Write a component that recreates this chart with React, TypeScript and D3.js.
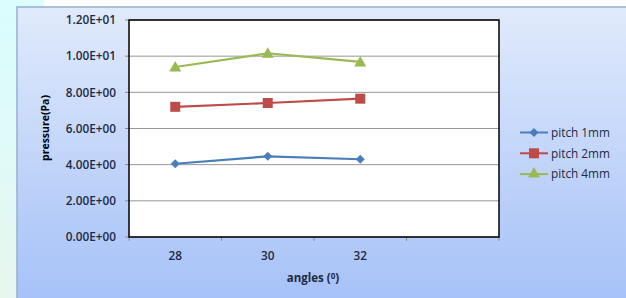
import React from "react";
import * as d3 from "d3";

const categories = ["28", "30", "32", ""];
const yTicks = [0, 2, 4, 6, 8, 10, 12];
const yTickLabels = ["0.00E+00", "2.00E+00", "4.00E+00", "6.00E+00", "8.00E+00", "1.00E+01", "1.20E+01"];
const seriesNames = ["pitch 1mm", "pitch 2mm", "pitch 4mm"];
const pitch1 = [4.05, 4.46, 4.3];
const pitch2 = [7.2, 7.41, 7.65];
const pitch4 = [9.4, 10.16, 9.68];
const colors = ["#4a7ebb", "#be4b48", "#98b954"];

const W = 626, H = 298;
const plot = { left: 129, top: 20, right: 499, bottom: 237 };

export default function App() {
  const x = d3.scaleBand<string>().domain(categories).range([plot.left, plot.right]);
  const y = d3.scaleLinear().domain([0, 12]).range([plot.bottom, plot.top]);
  const line = d3.line<number>().x((_, i) => (x(categories[i]) as number) + x.bandwidth() / 2).y((d) => y(d));
  const series = [pitch1, pitch2, pitch4];
  const font = "'Open Sans', sans-serif";
  const txt = "#1f2a44";

  const marker = (k: number, cx: number, cy: number, key: string) => {
    if (k === 0) {
      const s = 4.5;
      return <path key={key} d={`M${cx},${cy - s}L${cx + s},${cy}L${cx},${cy + s}L${cx - s},${cy}Z`} fill={colors[0]} />;
    }
    if (k === 1) return <rect key={key} x={cx - 5} y={cy - 5} width={10} height={10} fill={colors[1]} />;
    const s = 6;
    return <path key={key} d={`M${cx},${cy - s}L${cx + s},${cy + 4.5}L${cx - s},${cy + 4.5}Z`} fill={colors[2]} />;
  };

  const bandTicks = [...categories.map((c) => x(c) as number), plot.right];

  return (
    <svg width={W} height={H} style={{ position: "absolute", left: 0, top: 0 }}>
      <defs>
        <linearGradient id="bg" x1="0" y1="0" x2="0" y2="1">
          <stop offset="0" stopColor="#e0eafb" />
          <stop offset="1" stopColor="#a5c1f8" />
        </linearGradient>
        <linearGradient id="side" x1="0" y1="0" x2="0" y2="1">
          <stop offset="0" stopColor="#d9fdfd" />
          <stop offset="1" stopColor="#e6f6ee" />
        </linearGradient>
      </defs>
      <rect x={0} y={0} width={W} height={H} fill="#ffffff" />
      <rect x={0} y={0} width={17} height={H} fill="url(#side)" />
      <rect x={0} y={0} width={44} height={7} fill="#dcfdfd" />
      <rect x={17} y={7} width={W} height={H} fill="url(#bg)" stroke="#98aed0" strokeWidth={1.5} />
      <rect x={plot.left} y={plot.top} width={plot.right - plot.left} height={plot.bottom - plot.top} fill="#ffffff" />
      {yTicks.map((t, i) => (
        <g key={t}>
          <line x1={plot.left} x2={plot.right} y1={y(t)} y2={y(t)} stroke="#969696" strokeWidth={1} />
          <line x1={plot.left - 4} x2={plot.left} y1={y(t)} y2={y(t)} stroke="#8c8c8c" />
          <text x={116} y={y(t)} dy="0.36em" textAnchor="end" fontFamily={font} fontSize={11.8} fontWeight={600} fill={txt}>
            {yTickLabels[i]}
          </text>
        </g>
      ))}
      {bandTicks.map((bx, i) => (
        <line key={i} x1={bx} x2={bx} y1={plot.bottom} y2={plot.bottom + 4} stroke="#8c8c8c" />
      ))}
      <rect x={plot.left} y={plot.top} width={plot.right - plot.left} height={plot.bottom - plot.top} fill="none" stroke="#000" strokeWidth={1.5} />
      {categories.filter((c) => c).map((c) => (
        <text key={c} x={(x(c) as number) + x.bandwidth() / 2} y={260} textAnchor="middle" fontFamily={font} fontSize={11.8} fontWeight={600} fill={txt}>
          {c}
        </text>
      ))}
      {series.map((s, k) => (
        <g key={k}>
          <path d={line(s) || ""} fill="none" stroke={colors[k]} strokeWidth={2.2} />
          {s.map((v, i) => marker(k, (x(categories[i]) as number) + x.bandwidth() / 2, y(v), `${k}-${i}`))}
        </g>
      ))}
      <text transform="translate(49,128) rotate(-90)" textAnchor="middle" fontFamily={font} fontSize={10.5} fontWeight={700} fill="#000">
        pressure(Pa)
      </text>
      <text x={313} y={282} textAnchor="middle" fontFamily={font} fontSize={11.5} fontWeight={700} fill={txt}>
        angles (<tspan dy={-3.5} fontSize={8}>0</tspan><tspan dy={3.5}>)</tspan>
      </text>
      {seriesNames.map((n, k) => {
        const ly = 132.5 + k * 20.8;
        return (
          <g key={n}>
            <line x1={520} x2={548} y1={ly} y2={ly} stroke={colors[k]} strokeWidth={2} />
            {marker(k, 534, ly + (k === 2 ? -1 : 0), `l${k}`)}
            <text x={551} y={ly} dy="0.36em" fontFamily={font} fontSize={11.8} fill={txt}>{n}</text>
          </g>
        );
      })}
    </svg>
  );
}
